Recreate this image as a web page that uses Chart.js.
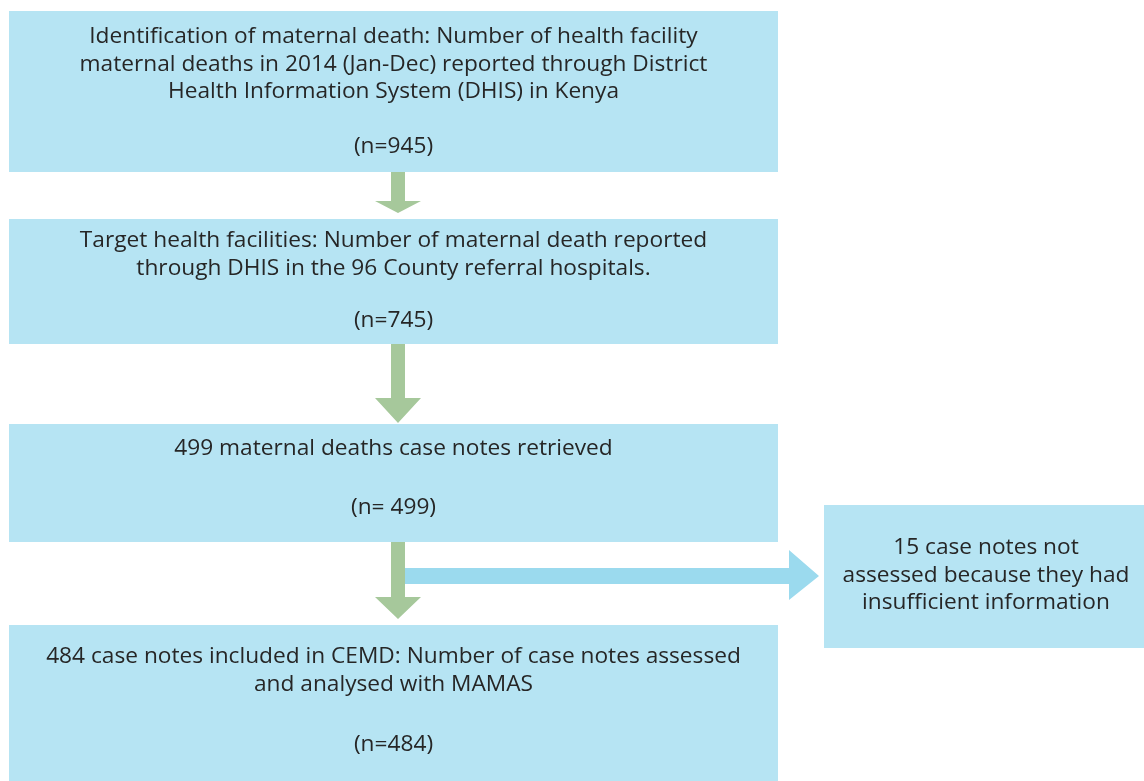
<!DOCTYPE html>
<html>
<head>
<meta charset="utf-8">
<script src="https://cdn.jsdelivr.net/npm/chart.js@4.4.1/dist/chart.umd.min.js"></script>
<style>
  body { margin: 0; background: #fff; }
  #wrap { width: 1144px; height: 781px; position: relative; }
</style>
</head>
<body>
<div id="wrap"><canvas id="myChart"></canvas></div>
<script>
// flow steps (text of each box)
const stepLines = [
  ["Identification of maternal death: Number of health facility",
   "maternal deaths in 2014 (Jan-Dec) reported through District",
   "Health Information System (DHIS) in Kenya"],
  ["Target health facilities: Number of maternal death reported",
   "through DHIS in the 96 County referral hospitals."],
  ["499 maternal deaths case notes retrieved"],
  ["484 case notes included in CEMD: Number of case notes assessed",
   "and analysed with MAMAS"],
  ["15 case notes not", "assessed because they had", "insufficient information"]
];
const stepCounts = ["(n=945)", "(n=745)", "(n= 499)", "(n=484)", null];

// box layout in chart units (same as the picture's pixel grid)
const boxLeft = [9, 9, 9, 9, 824];
const boxRight = [778, 778, 778, 778, 1144];
const boxTop = [11, 219, 424, 625, 505];
const boxBottom = [172, 344, 542, 781, 648];
const textCenterX = [393.5, 393.5, 393.5, 393.5, 986];
const firstBaseline = [43, 247, 455, 663, 554];
const countBaseline = [153, 327, 514, 751, null];

// down arrows: x, start y, head start y, tip y
const downX = [398, 398, 398];
const downFrom = [172, 344, 542];
const downHead = [201, 398, 597];
const downTip = [213, 423, 619];

// side arrow
const sideY = 576;
const sideFrom = 405;
const sideHead = 789;
const sideTip = 819;

const boxColor = '#b6e4f3';
const greenArrow = '#a6c89b';
const blueArrow = '#9bdaee';
const textColor = '#262626';

const flowPlugin = {
  id: 'flow',
  afterDatasetsDraw(chart) {
    const ctx = chart.ctx;
    const xs = chart.scales.x;
    const ys = chart.scales.y;
    const px = v => xs.getPixelForValue(v);
    const py = v => ys.getPixelForValue(v);
    ctx.save();

    // boxes
    ctx.fillStyle = boxColor;
    for (let i = 0; i < boxLeft.length; i++) {
      ctx.fillRect(px(boxLeft[i]), py(boxTop[i]),
        px(boxRight[i]) - px(boxLeft[i]), py(boxBottom[i]) - py(boxTop[i]));
    }

    // green arrows
    ctx.fillStyle = greenArrow;
    for (let i = 0; i < downX.length; i++) {
      ctx.beginPath();
      ctx.moveTo(px(downX[i] - 7), py(downFrom[i]));
      ctx.lineTo(px(downX[i] + 7), py(downFrom[i]));
      ctx.lineTo(px(downX[i] + 7), py(downHead[i]));
      ctx.lineTo(px(downX[i] + 23), py(downHead[i]));
      ctx.lineTo(px(downX[i]), py(downTip[i]));
      ctx.lineTo(px(downX[i] - 23), py(downHead[i]));
      ctx.lineTo(px(downX[i] - 7), py(downHead[i]));
      ctx.closePath();
      ctx.fill();
    }

    // blue arrow
    ctx.fillStyle = blueArrow;
    ctx.beginPath();
    ctx.moveTo(px(sideFrom), py(sideY - 8));
    ctx.lineTo(px(sideHead), py(sideY - 8));
    ctx.lineTo(px(sideHead), py(sideY - 26));
    ctx.lineTo(px(sideTip), py(sideY));
    ctx.lineTo(px(sideHead), py(sideY + 24));
    ctx.lineTo(px(sideHead), py(sideY + 8));
    ctx.lineTo(px(sideFrom), py(sideY + 8));
    ctx.closePath();
    ctx.fill();

    // text
    ctx.fillStyle = textColor;
    ctx.font = '22.7px "Open Sans"';
    ctx.textAlign = 'center';
    ctx.textBaseline = 'alphabetic';
    for (let i = 0; i < stepLines.length; i++) {
      stepLines[i].forEach(function (line, j) {
        ctx.fillText(line, px(textCenterX[i]), py(firstBaseline[i] + j * 27.5));
      });
      if (stepCounts[i]) {
        ctx.fillText(stepCounts[i], px(textCenterX[i]), py(countBaseline[i]));
      }
    }
    ctx.restore();
  }
};

new Chart(document.getElementById('myChart'), {
  type: 'scatter',
  data: {
    datasets: [{
      label: 'steps',
      data: boxLeft.map((v, i) => ({ x: textCenterX[i], y: firstBaseline[i] })),
      pointRadius: 0
    }]
  },
  options: {
    responsive: true,
    maintainAspectRatio: false,
    animation: false,
    layout: { padding: 0 },
    plugins: { legend: { display: false }, tooltip: { enabled: false } },
    scales: {
      x: { type: 'linear', min: 0, max: 1144, display: false },
      y: { type: 'linear', min: 0, max: 781, reverse: true, display: false }
    }
  },
  plugins: [flowPlugin]
});
</script>
</body>
</html>
